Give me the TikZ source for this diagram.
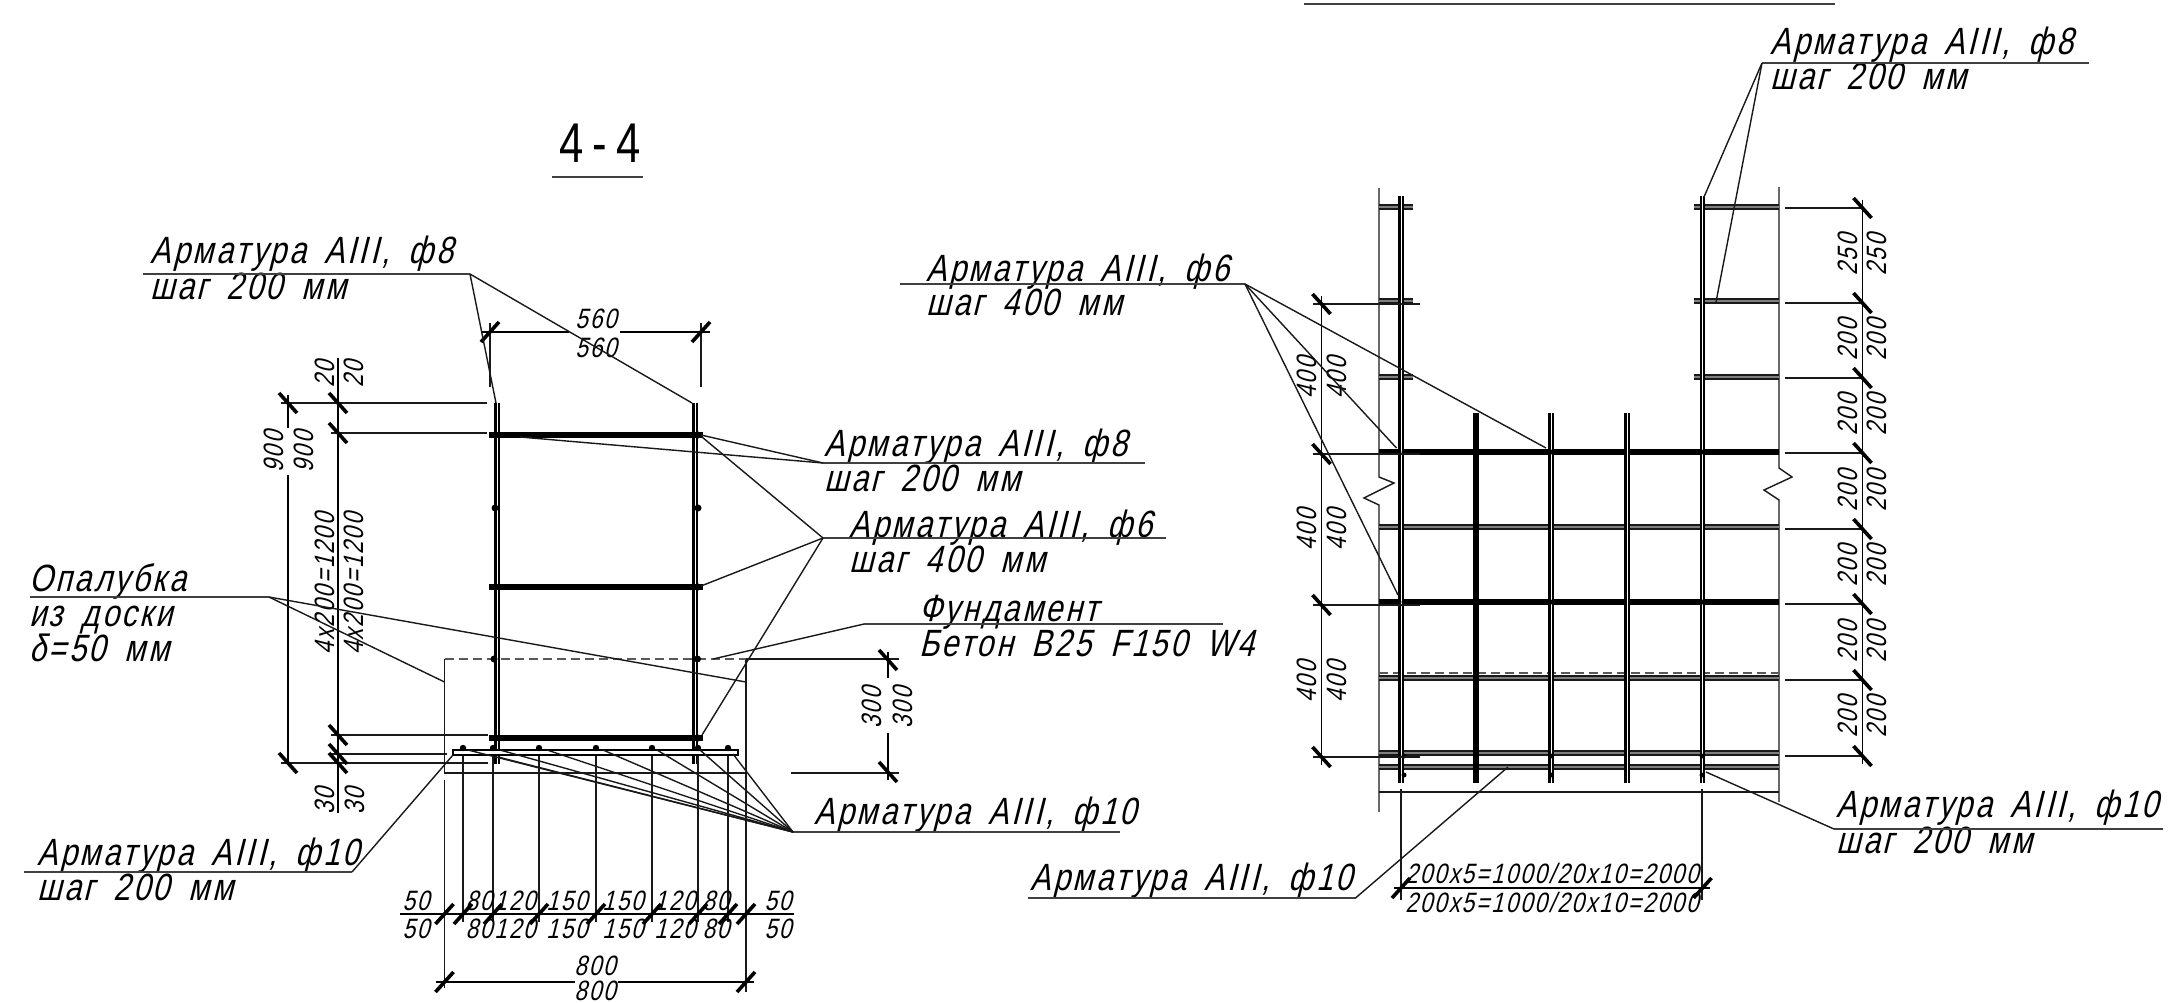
\documentclass[tikz,border=0pt]{standalone}
\usepackage{fontspec}
\setmainfont{Liberation Sans}[FakeSlant=.25,FakeStretch=.8,LetterSpace=7,WordSpace=1.7]
\newfontfamily\titlefont{Liberation Sans}[FakeStretch=.78]
\tikzset{
  thinl/.style={draw=black!90,line width=1.4pt},
  diml/.style={draw=black,line width=1.8pt},
  leader/.style={draw=black!90,line width=1.4pt},
  shelf/.style={draw=black!75,line width=2pt},
  ticky/.style={draw=black,line width=3.6pt},
  rebar/.style={draw=black,line width=5.4pt},
  tube/.style={draw=black,double=white,double distance=1pt,line width=2.2pt},
  htube/.style={draw=black!90,double=black!50,double distance=1.5pt,line width=2.4pt},
  dashy/.style={draw=black!65,line width=1.6pt,dash pattern=on 9pt off 5pt},
  lab/.style={inner sep=0pt,anchor=base west,font=\fontsize{38}{38}\selectfont},
  dm/.style={inner sep=0pt,anchor=base,font=\fontsize{28}{28}\selectfont},
  dv/.style={inner sep=0pt,anchor=center,rotate=90,font=\fontsize{28}{28}\selectfont},
  dotty/.style={fill=black,draw=none}
}
\newcommand{\tks}[2]{\draw[ticky] (#1-9,#2+10) -- (#1+9,#2-10);}
\newcommand{\tkb}[2]{\draw[ticky] (#1-9,#2-10) -- (#1+9,#2+10);}
\begin{document}
\begin{tikzpicture}[x=1pt,y=-1pt]
\useasboundingbox (0,0) rectangle (2169,1002);
\fill[white] (0,0) rectangle (2169,1002);
% ---- title
\node[inner sep=0pt,anchor=base,font=\titlefont\fontsize{56}{56}\selectfont] (title) at (600,162) {4\kern9pt-\kern9pt4};
\draw[shelf] (552,177) -- (643,177);
% ---- left section formwork
\draw[thinl] (444.5,659) -- (444.5,773) -- (746,773) -- (746,659);
\draw[thinl] (444.5,780) -- (444.5,988);
\draw[thinl] (746,773) -- (746,992);
\draw[dashy] (444.5,659) -- (746,659);
\draw[thinl] (746,659) -- (899,659);
\draw[thinl] (791,773) -- (899,773);
% ---- left section bars
\foreach \x in {497,695} \draw[tube] (\x,403) -- (\x,764);
\foreach \y in {435,587,738} \draw[rebar] (489,\y) -- (703,\y);
\draw[draw=black,line width=1.5pt,fill=white] (453,750) rectangle (738,755);
\foreach \x in {463,493,539,596,652,698,728} {
  \fill[dotty] (\x,748) circle (3.2pt);
  \draw[thinl] (\x,756) -- (\x,922);
}
\foreach \x/\y in {495/435,698/435,495/508,698/508,495/587,698/587,494/659,697.5/659,495/738,698/738}
  \fill[dotty] (\x,\y) circle (3.5pt);
% ---- extension lines left
\draw[thinl] (281,403) -- (487,403);
\draw[thinl] (331,433) -- (487,433);
\draw[thinl] (331,735) -- (488,735);
\draw[thinl] (331,754) -- (447,754);
\draw[thinl] (281,763) -- (488,763);
\draw[thinl] (490,323) -- (490,387);
\draw[thinl] (701,323) -- (701,387);
% ---- dims left
\draw[diml] (481,332) -- (569,332) (620,332) -- (710,332);
\tks{490}{332} \tks{701}{332}
\node[dm] (d560a) at (596,328) {560};
\node[dm] (d560b) at (596,357) {560};
\draw[diml] (288,395) -- (288,428) (288,475) -- (288,763);
\tkb{288}{403} \tkb{288}{763}
\node[dv] (d900a) at (274,452) {900};
\node[dv] (d900b) at (304,452) {900};
\draw[diml] (338,358) -- (338,813);
\tkb{338}{403} \tkb{338}{433} \tkb{338}{735} \tkb{338}{754} \tkb{338}{763}
\node[dv] (d20a) at (325,374) {20};
\node[dv] (d20b) at (354,374) {20};
\node[dv] (d1200a) at (325,584) {4x200=1200};
\node[dv] (d1200b) at (354,584) {4x200=1200};
\node[dv] (d30a) at (325,801) {30};
\node[dv] (d30b) at (355,801) {30};
\draw[diml] (888,652) -- (888,678) (888,733) -- (888,780);
\tkb{888}{660} \tkb{888}{772}
\node[dv] (d300a) at (872,708) {300};
\node[dv] (d300b) at (903,708) {300};
% ---- chain
\draw[diml] (399.5,914) -- (794,914);
\foreach \x in {444.5,463,493,539,596,652,698,728,746} {\tks{\x}{914}}
\foreach \n/\x/\t in {a/416/50,b/479/80,c/515/120,d/567/150,e/623/150,f/675/120,g/716/80,h/778/50} {
  \node[dm] (ca\n) at (\x,910) {\t};
  \node[dm] (cb\n) at (\x,938) {\t};
}
\draw[diml] (436,982) -- (575,982) (618,982) -- (754,982);
\tks{444.5}{982} \tks{746}{982}
\node[dm] (d800a) at (595,975) {800};
\node[dm] (d800b) at (595,1000) {800};
% ---- left labels
\node[lab] (t1a) at (150,263) {Арматура AIII, ф8};
\node[lab] (t1b) at (150,299) {шаг 200 мм};
\coordinate (k1) at (470,274);
\draw[shelf] (143,274) -- (k1);
\draw[leader] (k1) -- (496,403);
\draw[leader] (k1) -- (692,403);
\node[lab] (t2a) at (824,456) {Арматура AIII, ф8};
\node[lab] (t2b) at (824,491) {шаг 200 мм};
\coordinate (k2) at (823,463);
\draw[shelf] (k2) -- (1145,463);
\draw[leader] (k2) -- (701,435);
\draw[leader] (k2) -- (520,437);
\node[lab] (t3a) at (849,537) {Арматура AIII, ф6};
\node[lab] (t3b) at (849,572) {шаг 400 мм};
\coordinate (k3) at (823,538);
\draw[shelf] (k3) -- (1166,538);
\draw[leader] (k3) -- (702,437);
\draw[leader] (k3) -- (701,586);
\draw[leader] (k3) -- (702,735);
\node[lab] (t4a) at (919,621) {Фундамент};
\node[lab] (t4b) at (919,656) {Бетон B25 F150 W4};
\coordinate (k4) at (864,624);
\draw[shelf] (k4) -- (1223,624);
\draw[leader] (k4) -- (713,659);
\node[lab] (t5a) at (814,824) {Арматура AIII, ф10};
\coordinate (k5) at (793,832);
\draw[shelf] (k5) -- (1120,832);
\foreach \x/\y in {468/750,500/750,498/757,547/750,603/750,657/750,700/750,733/754}
  \draw[leader] (k5) -- (\x,\y);
\node[lab] (t6a) at (37,865) {Арматура AIII, ф10};
\node[lab] (t6b) at (37,900) {шаг 200 мм};
\coordinate (k6) at (352,872);
\draw[shelf] (24,872) -- (k6);
\draw[leader] (k6) -- (453,755);
\node[lab] (t7a) at (29,591) {Опалубка};
\node[lab] (t7b) at (29,626) {из доски};
\node[lab] (t7c) at (29,661) {δ=50 мм};
\coordinate (k7) at (269,597);
\draw[shelf] (30,597) -- (k7);
\draw[leader] (k7) -- (444.5,682);
\draw[leader] (k7) -- (746,682);
% ---- right section
\draw[shelf] (1304,4) -- (1835,4);
\draw[thinl] (1379,188) -- (1379,477) -- (1394,483) -- (1364,498) -- (1379,505) -- (1379,812);
\draw[thinl] (1779,187) -- (1779,468) -- (1792,477) -- (1764,490) -- (1779,500) -- (1779,802);
\draw[thinl] (1379,792) -- (1779,792);
\draw[dashy] (1379,673) -- (1779,673);
\foreach \y in {207,301,377} {
  \draw[htube] (1379,\y) -- (1413,\y);
  \draw[htube] (1694,\y) -- (1779,\y);
}
\foreach \y in {527,678,753,767} \draw[htube] (1379,\y) -- (1779,\y);
\foreach \y in {452,602} \draw[rebar] (1379,\y) -- (1779,\y);
\draw[tube] (1401,196) -- (1401,783);
\draw[tube] (1702.5,196) -- (1702.5,783);
\draw[rebar] (1476,413) -- (1476,783);
\draw[tube] (1551,413) -- (1551,783);
\draw[tube] (1627,413) -- (1627,783);
\foreach \x in {1404,1551,1702} \foreach \y in {452,602,756,775}
  \fill[dotty] (\x,\y) circle (2.5pt);
% right dims
\foreach \y in {208,303,378,453,529,604,680,756} {
  \draw[thinl] (1785,\y) -- (1862.5,\y);
  \tkb{1862.5}{\y}
}
\draw[diml] (1862.5,200) -- (1862.5,764);
\foreach \n/\y/\t in {a/255/250,b/340/200,c/415/200,d/491/200,e/566/200,f/642/200,g/717/200} {
  \node[dv] (ra\n) at (1848,\y) {\t};
  \node[dv] (rb\n) at (1877,\y) {\t};
}
\foreach \y in {304,454,605,757} {
  \draw[thinl] (1313,\y) -- (1420,\y);
  \tkb{1321.5}{\y}
}
\draw[diml] (1321.5,296) -- (1321.5,765);
\foreach \n/\y in {a/378,b/530,c/682} {
  \node[dv] (la\n) at (1307,\y) {400};
  \node[dv] (lb\n) at (1337,\y) {400};
}
% bottom dim
\draw[thinl] (1401,789) -- (1401,900);
\draw[thinl] (1702,789) -- (1702,900);
\draw[diml] (1394,888) -- (1710,888);
\tks{1401}{888} \tks{1702.5}{888}
\node[dm] (w1) at (1552,883) {200x5=1000/20x10=2000};
\node[dm] (w2) at (1552,912) {200x5=1000/20x10=2000};
% right labels
\node[lab] (t8a) at (1770,54) {Арматура AIII, ф8};
\node[lab] (t8b) at (1770,89) {шаг 200 мм};
\coordinate (k8) at (1762,63);
\draw[shelf] (k8) -- (2089,63);
\draw[leader] (k8) -- (1704,197);
\draw[leader] (k8) -- (1716,302);
\node[lab] (t9a) at (926,281) {Арматура AIII, ф6};
\node[lab] (t9b) at (926,315) {шаг 400 мм};
\coordinate (k9) at (1245,284);
\draw[shelf] (900,284) -- (k9);
\draw[leader] (k9) -- (1546,448);
\draw[leader] (k9) -- (1396.5,448);
\draw[leader] (k9) -- (1398,595);
\node[lab] (t10a) at (1030,890) {Арматура AIII, ф10};
\coordinate (k10) at (1355.5,898);
\draw[shelf] (1028,898) -- (k10);
\draw[leader] (k10) -- (1508,767);
\node[lab] (t11a) at (1836,817) {Арматура AIII, ф10};
\node[lab] (t11b) at (1836,853) {шаг 200 мм};
\coordinate (k11) at (1834,829);
\draw[shelf] (k11) -- (2163,829);
\draw[leader] (k11) -- (1706,772);
\end{tikzpicture}
\end{document}
